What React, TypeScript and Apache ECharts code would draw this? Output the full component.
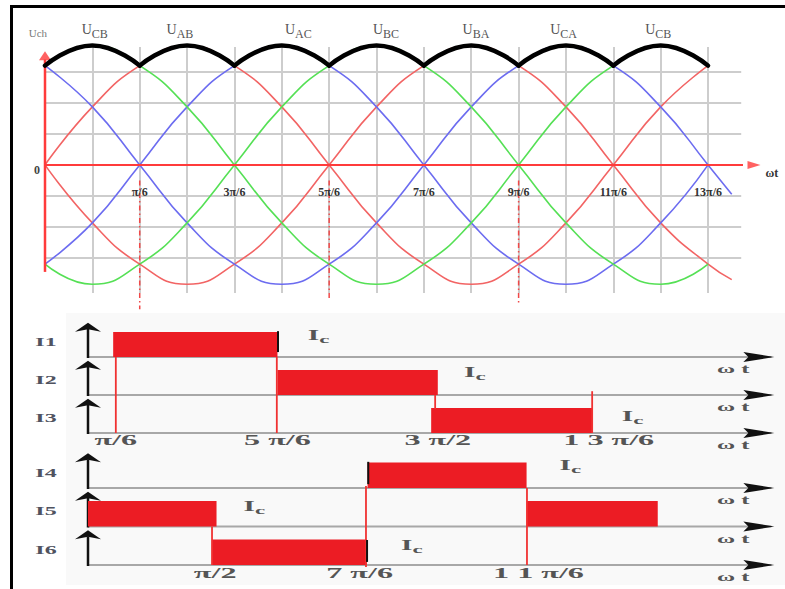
import { useEffect, useRef } from "react";
import * as echarts from "echarts";

// ---------- Upper plot: line-to-line voltages, one step = π/6 ----------
const steps = [0, 1, 2, 3, 4, 5, 6, 7, 8, 9, 10, 11, 12, 13, 14];
const uAB = [0, 1.87, 3.2, 3.85, 3.2, 1.87, 0, -1.87, -3.2, -3.85, -3.2, -1.87, 0, 1.87, 3.2];
const uBA = [0, -1.87, -3.2, -3.85, -3.2, -1.87, 0, 1.87, 3.2, 3.85, 3.2, 1.87, 0, -1.87, -3.2];
const uCA = [3.2, 1.87, 0, -1.87, -3.2, -3.85, -3.2, -1.87, 0, 1.87, 3.2, 3.85, 3.2, 1.87, 0];
const uAC = [-3.2, -1.87, 0, 1.87, 3.2, 3.85, 3.2, 1.87, 0, -1.87, -3.2, -3.85, -3.2, -1.87, 0];
const uBC = [-3.2, -3.85, -3.2, -1.87, 0, 1.87, 3.2, 3.85, 3.2, 1.87, 0, -1.87, -3.2, -3.85, -3.2];
const uCB = [3.2, 3.85, 3.2, 1.87, 0, -1.87, -3.2, -3.85, -3.2, -1.87, 0, 1.87, 3.2, 3.85, 3.2];
// two curves run a little past the last grid line
const tailStep = 14.5;
const uBATail = -3.7;
const uCATail = -0.95;

const peakNames = ["CB", "AB", "AC", "BC", "BA", "CA", "CB"];
const peakLabelSteps = [1.05, 2.85, 5.35, 7.2, 9.1, 10.95, 12.95];
const angleTicks = ["π/6", "3π/6", "5π/6", "7π/6", "9π/6", "11π/6", "13π/6"];
const angleTickSteps = [2, 4, 6, 8, 10, 12, 14];
const markerSteps = [2, 6, 10];
const markerEnds = [-4.65, -4.3, -4.45];
const gridSteps = [1, 2, 3, 4, 5, 6, 7, 8, 9, 10, 11, 12, 13, 14];
const gridLevels = [3, 2, 1, -1, -2, -3];

// ---------- Lower plots: conduction intervals (degrees) ----------
// [start, end, row]  (row 2 = top trace of the group)
const pulsesA = [
  [29, 153, 2],
  [153, 274, 1],
  [269, 391, 0],
];
const pulsesB = [
  [209, 329, 2],
  [-2, 95, 1],
  [329, 428, 1],
  [91.5, 208.5, 0],
];
// commutation guides [angle, from, to]
const redGuidesA = [
  [31, 2, 0],
  [152.5, 2, 0],
  [272, 1, 0.63],
  [390.5, 1.1, 0],
];
const redGuidesB = [
  [207.8, 2.05, -0.05],
  [329.3, 2, 0],
  [91.6, 1, 0],
];
const blackEdgesA = [[153.4, 2.13, 2.68]];
const blackEdgesB = [
  [209.5, 2.1, 2.68],
  [208.6, 0.08, 0.65],
];
const rowNamesA = ["I1", "I2", "I3"];
const rowNamesB = ["I4", "I5", "I6"];
const traceRows = [2, 1, 0];
const icPosA = [
  [184, 2.58],
  [302, 1.6],
  [421, 0.45],
];
const icPosB = [
  [362, 2.6],
  [123.5, 1.53],
  [242.5, 0.52],
];
const ticksA = ["π/6", "5 π/6", "3 π/2", "1 3 π/6"];
const tickDegA = [31, 153, 274, 403];
const ticksB = ["π/2", "7 π/6", "1 1 π/6"];
const tickDegB = [94, 203, 338];

const axisA = { min: 10, max: 528 };
const axisB = { min: -2, max: 516 };

const RED = "#f26464";
const BLUE = "#6c6cf0";
const GREEN = "#55e055";
const AXIS_RED = "#ff3b3b";
const PULSE = "#ec1c24";
const SERIF = "Liberation Serif";

type Txt = {
  x: number;
  y: number;
  text: string;
  size: number;
  color: string;
  bold?: boolean;
  sx?: number;
  sub?: string;
  subSize?: number;
  subDy?: number;
};

let measureCtx: CanvasRenderingContext2D | null = null;
function textWidth(t: string, size: number, bold: boolean) {
  if (!measureCtx) measureCtx = document.createElement("canvas").getContext("2d");
  if (!measureCtx) return t.length * size * 0.5;
  measureCtx.font = `${bold ? "bold " : ""}${size}px "${SERIF}"`;
  return measureCtx.measureText(t).width;
}

function textSeries(gridIndex: number, items: Txt[]) {
  return {
    type: "custom",
    xAxisIndex: gridIndex,
    yAxisIndex: gridIndex,
    clip: false,
    silent: true,
    z: 8,
    data: items.map((it) => [it.x, it.y]),
    encode: { x: 0, y: 1 },
    renderItem: (params: any, api: any) => {
      const it = items[params.dataIndex];
      const p = api.coord([api.value(0), api.value(1)]);
      const weight = it.bold ? "bold" : "normal";
      const base = { fontFamily: SERIF, fontWeight: weight, fill: it.color };
      const children: any[] = [];
      if (it.sub) {
        const subSize = it.subSize ?? it.size * 0.75;
        const wMain = textWidth(it.text, it.size, !!it.bold);
        const wSub = textWidth(it.sub, subSize, !!it.bold);
        const left = -(wMain + wSub) / 2;
        children.push({
          type: "text",
          x: left,
          y: 0,
          style: { ...base, text: it.text, fontSize: it.size, align: "left", verticalAlign: "middle" },
        });
        children.push({
          type: "text",
          x: left + wMain,
          y: it.subDy ?? 4,
          style: { ...base, text: it.sub, fontSize: subSize, align: "left", verticalAlign: "middle" },
        });
      } else {
        children.push({
          type: "text",
          x: 0,
          y: 0,
          style: { ...base, text: it.text, fontSize: it.size, align: "center", verticalAlign: "middle" },
        });
      }
      return { type: "group", x: p[0], y: p[1], scaleX: it.sx ?? 1, children };
    },
  };
}

function pulseSeries(gridIndex: number, pulses: number[][]) {
  return {
    type: "custom",
    xAxisIndex: gridIndex,
    yAxisIndex: gridIndex,
    clip: false,
    silent: true,
    z: 4,
    data: pulses,
    encode: { x: [0, 1], y: 2 },
    renderItem: (_params: any, api: any) => {
      const s = api.coord([api.value(0), api.value(2)]);
      const e = api.coord([api.value(1), api.value(2) + 0.66]);
      return {
        type: "rect",
        shape: { x: s[0], y: e[1], width: e[0] - s[0], height: s[1] - e[1] },
        style: { fill: PULSE },
      };
    },
  };
}

function segmentSeries(gridIndex: number, segs: number[][], color: string, width: number) {
  return {
    type: "custom",
    xAxisIndex: gridIndex,
    yAxisIndex: gridIndex,
    clip: false,
    silent: true,
    z: 5,
    data: segs,
    encode: { x: 0, y: [1, 2] },
    renderItem: (_params: any, api: any) => {
      const a = api.coord([api.value(0), api.value(1)]);
      const b = api.coord([api.value(0), api.value(2)]);
      return {
        type: "line",
        shape: { x1: a[0], y1: a[1], x2: b[0], y2: b[1] },
        style: { stroke: color, lineWidth: width },
      };
    },
  };
}

function traceAxesSeries(gridIndex: number, ext: { min: number; max: number }) {
  return {
    type: "custom",
    xAxisIndex: gridIndex,
    yAxisIndex: gridIndex,
    clip: false,
    silent: true,
    z: 3,
    data: traceRows.map((r) => [ext.min, r]),
    encode: { x: 0, y: 1 },
    renderItem: (_params: any, api: any) => {
      const row = api.value(1);
      const a = api.coord([ext.min, row]);
      const b = api.coord([ext.max, row]);
      const tip = api.coord([ext.min, row + 0.9]);
      return {
        type: "group",
        children: [
          {
            type: "line",
            shape: { x1: a[0], y1: a[1], x2: b[0] - 3, y2: b[1] },
            style: { stroke: "#a8a8a8", lineWidth: 2 },
          },
          {
            type: "polygon",
            shape: {
              points: [
                [b[0] - 31, b[1] - 5],
                [b[0], b[1]],
                [b[0] - 31, b[1] + 5],
                [b[0] - 26, b[1]],
              ],
            },
            style: { fill: "#111" },
          },
          {
            type: "line",
            shape: { x1: a[0], y1: a[1] + 1, x2: a[0], y2: tip[1] + 6 },
            style: { stroke: "#111", lineWidth: 2.5 },
          },
          {
            type: "polygon",
            shape: {
              points: [
                [a[0], tip[1]],
                [a[0] + 13, tip[1] + 9],
                [a[0], tip[1] + 6.5],
                [a[0] - 13, tip[1] + 9],
              ],
            },
            style: { fill: "#111" },
          },
        ],
      };
    },
  };
}

function buildOption() {
  const series: any[] = [];

  // background grid of the voltage plot
  series.push({
    type: "line",
    xAxisIndex: 0,
    yAxisIndex: 0,
    data: [[0, 0]],
    symbol: "none",
    lineStyle: { opacity: 0 },
    silent: true,
    z: 1,
    markLine: {
      silent: true,
      z: 1,
      symbol: ["none", "none"],
      label: { show: false },
      lineStyle: { color: "#cdcdcd", width: 2, type: "solid" },
      data: [...gridSteps.map((t) => ({ xAxis: t })), ...gridLevels.map((v) => ({ yAxis: v }))],
    },
  });

  const curves: { values: number[]; color: string; tail?: number }[] = [
    { values: uAB, color: RED },
    { values: uBA, color: RED, tail: uBATail },
    { values: uCA, color: BLUE, tail: uCATail },
    { values: uAC, color: BLUE },
    { values: uBC, color: GREEN },
    { values: uCB, color: GREEN },
  ];
  curves.forEach((c) => {
    const data = steps.map((t, i) => [t, c.values[i]]);
    if (c.tail !== undefined) data.push([tailStep, c.tail]);
    series.push({
      type: "line",
      xAxisIndex: 0,
      yAxisIndex: 0,
      data,
      smooth: true,
      symbol: "none",
      clip: false,
      silent: true,
      z: 2,
      lineStyle: { color: c.color, width: 1.6 },
    });
  });

  // dash-dot commutation markers
  markerSteps.forEach((t, i) => {
    series.push({
      type: "line",
      xAxisIndex: 0,
      yAxisIndex: 0,
      data: [
        [t, -0.5],
        [t, markerEnds[i]],
      ],
      symbol: "none",
      clip: false,
      silent: true,
      z: 2,
      lineStyle: { color: "#f04848", width: 1.5, type: [5, 3, 1.5, 3] },
    });
  });

  // red axes with arrow heads
  series.push({
    type: "line",
    xAxisIndex: 0,
    yAxisIndex: 0,
    data: [
      [0, -3.45],
      [0, 3.4],
    ],
    symbol: "none",
    clip: false,
    silent: true,
    z: 3,
    lineStyle: { color: AXIS_RED, width: 2.5 },
  });
  series.push({
    type: "line",
    xAxisIndex: 0,
    yAxisIndex: 0,
    data: [
      [0, 0],
      [14.85, 0],
    ],
    symbol: "none",
    clip: false,
    silent: true,
    z: 3,
    lineStyle: { color: AXIS_RED, width: 2 },
  });
  series.push({
    type: "scatter",
    xAxisIndex: 0,
    yAxisIndex: 0,
    data: [[0, 3.52]],
    symbol: "triangle",
    symbolSize: [12, 9],
    clip: false,
    silent: true,
    z: 3,
    itemStyle: { color: AXIS_RED },
  });
  series.push({
    type: "scatter",
    xAxisIndex: 0,
    yAxisIndex: 0,
    data: [[14.97, 0]],
    symbol: "triangle",
    symbolRotate: -90,
    symbolSize: [8, 13],
    clip: false,
    silent: true,
    z: 3,
    itemStyle: { color: AXIS_RED },
  });

  // rectified envelope, one arch per conduction interval
  const envelope = steps.map((_, i) => Math.max(uAB[i], uBA[i], uCA[i], uAC[i], uBC[i], uCB[i]));
  for (let k = 0; k + 2 < steps.length; k += 2) {
    series.push({
      type: "line",
      xAxisIndex: 0,
      yAxisIndex: 0,
      data: [k, k + 1, k + 2].map((i) => [steps[i], envelope[i]]),
      smooth: true,
      symbol: "none",
      clip: false,
      silent: true,
      z: 4,
      lineStyle: { color: "#000", width: 4.5, cap: "round", join: "round" },
    });
  }

  // texts of the voltage plot
  const topTexts: Txt[] = [
    { x: -0.15, y: 4.26, text: "Uch", size: 11, color: "#777" },
    { x: -0.17, y: -0.16, text: "0", size: 12, color: "#444", bold: true },
    { x: 15.35, y: -0.26, text: "ωt", size: 12, color: "#333", bold: true },
    ...peakNames.map((n, i) => ({
      x: peakLabelSteps[i],
      y: 4.35,
      text: "U",
      sub: n,
      size: 14,
      subSize: 12,
      subDy: 4,
      color: "#555",
    })),
    ...angleTicks.map((t, i) => ({
      x: angleTickSteps[i],
      y: -0.87,
      text: t,
      size: 12,
      color: "#333",
      bold: true,
    })),
  ];
  series.push(textSeries(0, topTexts));

  // ---- current traces ----
  const groups = [
    { grid: 1, ext: axisA, pulses: pulsesA, red: redGuidesA, black: blackEdgesA, names: rowNamesA, ic: icPosA, ticks: ticksA, tickDeg: tickDegA, tickY: -0.19, wtX: 497 },
    { grid: 2, ext: axisB, pulses: pulsesB, red: redGuidesB, black: blackEdgesB, names: rowNamesB, ic: icPosB, ticks: ticksB, tickDeg: tickDegB, tickY: -0.22, wtX: 485 },
  ];
  groups.forEach((g) => {
    series.push(traceAxesSeries(g.grid, g.ext));
    series.push(pulseSeries(g.grid, g.pulses));
    series.push(segmentSeries(g.grid, g.red, "#f03232", 1.8));
    series.push(segmentSeries(g.grid, g.black, "#111", 2));
    const degPerPx = 1 / 1.325;
    const texts: Txt[] = [
      ...g.names.map((n, i) => ({
        x: g.ext.min - 42 * degPerPx,
        y: traceRows[i] + 0.4,
        text: n,
        size: 12,
        color: "#50535f",
        bold: true,
        sx: 2,
      })),
      ...g.ic.map((p) => ({
        x: p[0],
        y: p[1],
        text: "I",
        sub: "c",
        size: 14,
        subSize: 11,
        subDy: 4,
        color: "#555",
        bold: true,
        sx: 2.1,
      })),
      ...traceRows.map((r) => ({
        x: g.wtX,
        y: r - 0.3,
        text: "ω t",
        size: 13,
        color: "#555",
        bold: true,
        sx: 1.9,
      })),
      ...g.ticks.map((t, i) => ({
        x: g.tickDeg[i],
        y: g.tickY,
        text: t,
        size: 14,
        color: "#555",
        bold: true,
        sx: 2.3,
      })),
    ];
    series.push(textSeries(g.grid, texts));
  });

  const hiddenAxis = (min: number, max: number, gridIndex: number) => ({
    type: "value",
    gridIndex,
    min,
    max,
    show: false,
    splitLine: { show: false },
  });

  return {
    animation: false,
    backgroundColor: "#ffffff",
    grid: [
      { left: 45, top: 47, width: 696.2, height: 246 },
      { left: 88, top: 319, width: 686.35, height: 114 },
      { left: 88, top: 449.5, width: 686.35, height: 115.5 },
    ],
    xAxis: [hiddenAxis(0, 14.7, 0), hiddenAxis(axisA.min, axisA.max, 1), hiddenAxis(axisB.min, axisB.max, 2)],
    yAxis: [hiddenAxis(-4.13, 3.8, 0), hiddenAxis(0, 3, 1), hiddenAxis(0, 3, 2)],
    graphic: [
      { type: "rect", z: 0, silent: true, shape: { x: 66, y: 313, width: 719, height: 272 }, style: { fill: "#f9f9f9" } },
      { type: "rect", z: 100, silent: true, shape: { x: 10, y: 5, width: 775, height: 3 }, style: { fill: "#000" } },
      { type: "rect", z: 100, silent: true, shape: { x: 10, y: 5, width: 3, height: 584 }, style: { fill: "#000" } },
    ],
    series,
  };
}

export default function App() {
  const ref = useRef<HTMLDivElement>(null);
  useEffect(() => {
    if (!ref.current) return;
    const chart = echarts.init(ref.current, null, { renderer: "svg" });
    chart.setOption(buildOption() as any);
    return () => chart.dispose();
  }, []);
  return (
    <div
      ref={ref}
      style={{ position: "fixed", left: 0, top: 0, width: 785, height: 589, background: "#fff" }}
    />
  );
}
